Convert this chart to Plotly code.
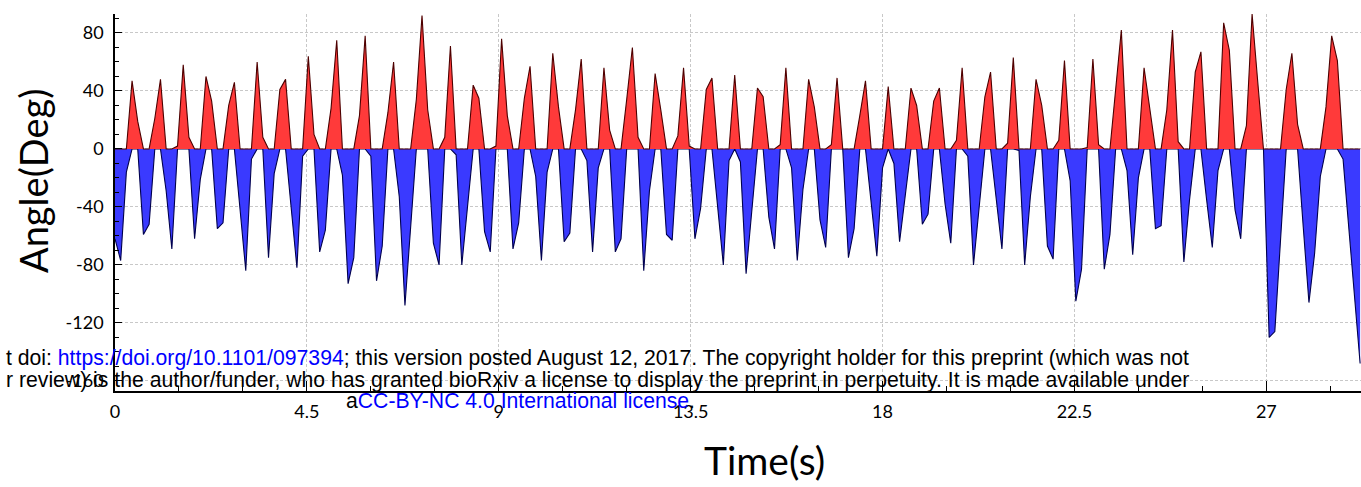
import plotly.graph_objects as go

# sample spacing (s) of the recorded angles
dt = 0.13333

# flexion (positive) angle samples, degrees
red_angle = [
    0, 0, 0, 47, 19, 0, 0, 21, 48, 0,
    0, 2, 58, 8, 0, 0, 50, 33, 0, 0,
    30, 46, 0, 0, 0, 60, 8, 0, 0, 41,
    48, 0, 0, 0, 64, 10, 0, 0, 28, 75,
    0, 0, 0, 23, 78, 0, 0, 0, 25, 60,
    0, 0, 0, 34, 92, 27, 0, 0, 8, 71,
    0, 0, 0, 44, 35, 0, 0, 2, 76, 23,
    0, 0, 35, 57, 0, 0, 0, 66, 29, 0,
    0, 27, 62, 0, 0, 0, 56, 13, 0, 0,
    34, 70, 8, 0, 0, 52, 27, 0, 0, 9,
    56, 2, 0, 0, 41, 49, 0, 0, 0, 51,
    0, 0, 0, 42, 36, 0, 0, 3, 56, 0,
    0, 0, 48, 29, 0, 0, 3, 49, 0, 0,
    0, 23, 47, 0, 0, 0, 43, 0, 0, 0,
    42, 30, 0, 0, 33, 42, 0, 0, 6, 56,
    0, 0, 0, 36, 53, 0, 0, 4, 63, 0,
    0, 0, 48, 30, 0, 0, 6, 61, 0, 0,
    0, 1, 62, 3, 0, 0, 42, 82, 0, 0,
    0, 56, 28, 0, 0, 27, 82, 5, 0, 0,
    53, 67, 0, 0, 0, 87, 68, 0, 0, 16,
    93, 46, 0, 0, 0, 0, 41, 66, 17, 0,
    0, 0, 0, 29, 78, 61, 0, 0, 0, 0,
]

# extension (negative) angle samples, degrees
blue_angle = [
    -62, -77, -16, 0, 0, -59, -52, 0, 0, -29,
    -69, 0, 0, 0, -62, -21, 0, 0, -55, -51,
    0, 0, -42, -84, -7, 0, 0, -75, -17, 0,
    0, -40, -82, -5, 0, 0, -71, -56, 0, 0,
    -18, -93, -75, 0, 0, -5, -91, -67, 0, 0,
    -33, -108, -55, 0, 0, 0, -65, -80, 0, 0,
    -4, -80, -40, 0, 0, -57, -71, 0, 0, 0,
    -69, -51, 0, 0, -19, -77, -16, 0, 0, -64,
    -58, 0, 0, -8, -71, -13, 0, 0, -71, -62,
    0, 0, 0, -84, -29, 0, 0, -59, -63, 0,
    0, 0, -62, -41, 0, 0, -40, -80, -8, 0,
    -9, -86, -43, 0, 0, -47, -69, 0, 0, -13,
    -77, -28, 0, 0, -49, -68, 0, 0, 0, -75,
    -55, 0, 0, -37, -74, -13, 0, -10, -64, -32,
    0, 0, -52, -45, 0, 0, -38, -65, 0, 0,
    -5, -80, -40, 0, 0, -35, -69, 0, 0, -1,
    -80, -33, 0, 0, -67, -76, 0, 0, -22, -105,
    -83, 0, 0, 0, -83, -59, 0, 0, -15, -73,
    -20, 0, 0, -55, -53, 0, 0, 0, -78, -35,
    0, 0, -35, -68, -15, 0, 0, -42, -62, 0,
    0, 0, 0, -130, -126, -63, 0, 0, 0, -54,
    -106, -72, -19, 0, 0, 0, -7, -53, -100, -148,
]

x_ticks = [0, 4.5, 9, 13.5, 18, 22.5, 27]
x_tick_text = ["0", "4.5", "9", "13.5", "18", "22.5", "27"]
y_ticks = [80, 40, 0, -40, -80, -120, -160]
y_tick_text = ["80", "40", "0", "-40", "-80", "-120", "-160"]

fig = go.Figure()
fig.add_trace(go.Scatter(
    x0=0, dx=dt, y=blue_angle, mode="lines", fill="tozeroy",
    fillcolor="rgb(58,58,255)", line=dict(color="#00004d", width=1.1),
    showlegend=False, hoverinfo="x+y",
))
fig.add_trace(go.Scatter(
    x0=0, dx=dt, y=red_angle, mode="lines", fill="tozeroy",
    fillcolor="rgb(255,58,58)", line=dict(color="#4d0000", width=1.1),
    showlegend=False, hoverinfo="x+y",
))

grid = dict(gridcolor="#c8c8c8", gridwidth=1, griddash="3px,2px")
title_family = "Lato, Calibri, sans-serif"
tick_font = dict(family=title_family, size=18, color="black")

fig.update_layout(
    width=1361, height=487,
    margin=dict(l=115, r=0, t=14, b=96),
    paper_bgcolor="white", plot_bgcolor="white",
    xaxis=dict(
        range=[0, 29.22], tickvals=x_ticks, ticktext=x_tick_text,
        ticks="inside", ticklen=10, tickwidth=1.3, tickcolor="black",
        showline=True, linecolor="black", linewidth=1.6,
        zeroline=False, showgrid=True, ticklabelstandoff=4,
        tickfont=tick_font,
        minor=dict(dtick=1.5, tick0=0, ticks="inside", ticklen=5,
                   tickcolor="black", tickwidth=1.2, showgrid=False),
        **grid,
    ),
    yaxis=dict(
        range=[-167, 93.1], tickvals=y_ticks, ticktext=y_tick_text,
        ticks="inside", ticklen=7, tickwidth=1.3, tickcolor="black",
        showline=True, linecolor="black", linewidth=1.6,
        zeroline=False, showgrid=True, ticklabelstandoff=6,
        tickfont=tick_font,
        minor=dict(dtick=10, tick0=0, ticks="inside", ticklen=4,
                   tickcolor="black", tickwidth=1.2, showgrid=False),
        **grid,
    ),
)

# white patch of the preprint stamp covering part of the grid
fig.add_shape(type="rect", xref="paper", yref="paper",
              x0=(683 - 115) / 1246, x1=(842 - 115) / 1246,
              y0=(391 - 372) / 377, y1=(391 - 289) / 377,
              fillcolor="white", line=dict(width=0), layer="between")

# axis titles
fig.add_annotation(
    xref="paper", yref="paper", x=(33 - 115) / 1246, y=(391 - 181) / 377,
    xanchor="center", yanchor="middle", showarrow=False, textangle=-90,
    font=dict(family=title_family, size=38, color="black"),
    text="Angle(Deg)",
)
fig.add_annotation(
    xref="paper", yref="paper", x=(764 - 115) / 1246, y=(391 - 460) / 377,
    xanchor="center", yanchor="middle", showarrow=False,
    font=dict(family=title_family, size=39, color="black"),
    text="Time(s)",
)

# preprint stamp
wm_font = dict(family="Liberation Sans, Arial, sans-serif", size=21.2, color="black")
fig.add_annotation(
    xref="paper", yref="paper", x=(1191 - 115) / 1246, y=(391 - 358) / 377,
    xanchor="right", yanchor="middle", showarrow=False, font=wm_font,
    text='t doi: <span style="color:#0000ff">https://doi.org/10.1101/097394</span>; '
         'this version posted August 12, 2017. The copyright holder for this preprint (which was not',
)
fig.add_annotation(
    xref="paper", yref="paper", x=(1191 - 115) / 1246, y=(391 - 380) / 377,
    xanchor="right", yanchor="middle", showarrow=False, font=wm_font,
    text="r review) is the author/funder, who has granted bioRxiv a license to display "
         "the preprint in perpetuity. It is made available under",
)
fig.add_annotation(
    xref="paper", yref="paper", x=(520 - 115) / 1246, y=(391 - 400) / 377,
    xanchor="center", yanchor="middle", showarrow=False, font=wm_font,
    text='a<span style="color:#0000ff">CC-BY-NC 4.0 International license</span>.',
)

fig.write_html("out.html")
